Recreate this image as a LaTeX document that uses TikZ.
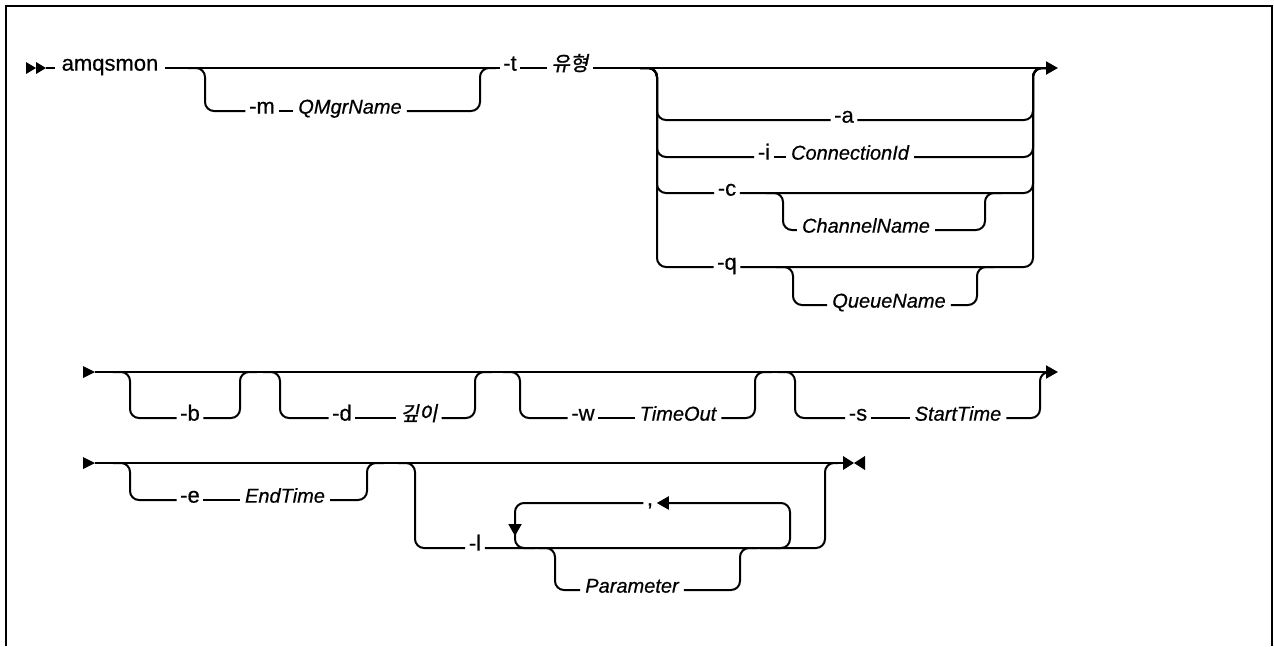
\documentclass[tikz,border=0pt]{standalone}
\usepackage{fontspec}
\setmainfont{Liberation Sans}[UprightFeatures={FakeBold=0.5}, ItalicFeatures={FakeBold=0.5}]
\newfontfamily\krfont{Noto Sans CJK KR}[FakeSlant=0.2, FakeBold=1.2]
\usetikzlibrary{arrows.meta}
\begin{document}
\begin{tikzpicture}[x=1pt,y=-1pt,
  ln/.style={line width=2pt},
  rr/.style={line width=2pt, rounded corners=9pt},
  tip/.style={-{Triangle[length=12pt,width=13pt]}},
  kw/.style={font=\fontsize{22}{26}\selectfont, inner xsep=3.5pt, inner ysep=0pt},
  var/.style={font=\fontsize{20}{24}\selectfont\itshape, inner xsep=5pt, inner ysep=0pt},
  kr/.style={font=\fontsize{20}{24}\selectfont\krfont, inner xsep=4pt, inner ysep=0pt},
]
\useasboundingbox (0,0) rectangle (1274,646);
% frame
\draw[line width=2.2pt] (6,646) -- (6,6) -- (1272,6) -- (1272,646);

% ---------- row 1 ----------
\coordinate (s1) at (46,68);
\fill (26,62) -- (36,68) -- (26,74) -- cycle;
\fill (36,62) -- (46,68) -- (36,74) -- cycle;
\node[kw, anchor=mid, inner xsep=7pt] (amq) at (110,68) {amqsmon};
\draw[ln] (s1) -- (amq.mid west);
\node[kw, anchor=mid] (m) at (262,111) {-m};
\node[var, anchor=mid] (qm) at (350,111) {QMgrName};
\node[kw, anchor=mid] (t) at (510,68) {-t};
\node[kr, anchor=mid] (yh) at (570,68) {유형};
\draw[ln] (amq.mid east) -- (t.mid west);
\draw[rr] (188,68) -- (205,68) -- (205,111) -- (m.mid west);
\draw[ln] (m.mid east) -- (qm.mid west);
\draw[rr] (qm.mid east) -- (480,111) -- (480,68) -- (496,68);
\draw[ln] (t.mid east) -- (yh.mid west);
% choice block
\coordinate (cR) at (1033,68);
\coordinate (e1) at (1058,68);
\draw[ln] (yh.mid east) -- (cR);
\draw[ln, tip] (cR) -- (e1);
\node[kw, anchor=mid] (a) at (844,120) {-a};
\node[kw, anchor=mid] (i) at (764,157) {-i};
\node[var, anchor=mid] (cid) at (850,157) {ConnectionId};
\node[kw, anchor=mid] (c) at (727,193) {-c};
\node[var, anchor=mid] (chn) at (866,230) {ChannelName};
\node[kw, anchor=mid] (q) at (727,267) {-q};
\node[var, anchor=mid] (qn) at (889,305) {QueueName};
% a
\draw[rr] (640,68) -- (657,68) -- (657,120) -- (a.mid west);
\draw[rr] (a.mid east) -- (1033,120) -- (1033,68) -- (1050,68);
% i
\draw[rr] (640,68) -- (657,68) -- (657,157) -- (i.mid west);
\draw[ln] (i.mid east) -- (cid.mid west);
\draw[rr] (cid.mid east) -- (1033,157) -- (1033,68) -- (1050,68);
% c
\draw[rr] (640,68) -- (657,68) -- (657,193) -- (c.mid west);
\draw[rr] (c.mid east) -- (1033,193) -- (1033,68) -- (1050,68);
\draw[rr] (766,193) -- (783,193) -- (783,230) -- (chn.mid west);
\draw[rr] (chn.mid east) -- (985,230) -- (985,193) -- (1002,193);
% q
\draw[rr] (640,68) -- (657,68) -- (657,267) -- (q.mid west);
\draw[rr] (q.mid east) -- (1033,267) -- (1033,68) -- (1050,68);
\draw[rr] (776,267) -- (793,267) -- (793,305) -- (qn.mid west);
\draw[rr] (qn.mid east) -- (977,305) -- (977,267) -- (994,267);

% ---------- row 2 ----------
\coordinate (s2) at (95,372);
\coordinate (e2) at (1058,372);
\fill (83,366) -- (95,372) -- (83,378) -- cycle;
\draw[ln, tip] (s2) -- (e2);
\node[kw, anchor=mid] (b) at (190,418) {-b};
\node[kw, anchor=mid] (d) at (342,418) {-d};
\node[kr, anchor=mid] (dp) at (419,418) {깊이};
\node[kw, anchor=mid] (w) at (583,418) {-w};
\node[var, anchor=mid] (to) at (678,418) {TimeOut};
\node[kw, anchor=mid] (s) at (858,418) {-s};
\node[var, anchor=mid] (st) at (958,418) {StartTime};
\draw[rr] (113,372) -- (130,372) -- (130,418) -- (b.mid west);
\draw[rr] (b.mid east) -- (240,418) -- (240,372) -- (257,372);
\draw[rr] (263,372) -- (280,372) -- (280,418) -- (d.mid west);
\draw[ln] (d.mid east) -- (dp.mid west);
\draw[rr] (dp.mid east) -- (475,418) -- (475,372) -- (492,372);
\draw[rr] (503,372) -- (520,372) -- (520,418) -- (w.mid west);
\draw[ln] (w.mid east) -- (to.mid west);
\draw[rr] (to.mid east) -- (755,418) -- (755,372) -- (772,372);
\draw[rr] (778,372) -- (795,372) -- (795,418) -- (s.mid west);
\draw[ln] (s.mid east) -- (st.mid west);
\draw[rr] (st.mid east) -- (1040,418) -- (1040,372) -- (1050,372);

% ---------- row 3 ----------
\coordinate (s3) at (95,463);
\coordinate (e3) at (843,463);
\fill (83,457) -- (95,463) -- (83,469) -- cycle;
\draw[ln] (s3) -- (e3);
\fill (843,456) -- (854,463) -- (843,470) -- cycle;
\fill (865,456) -- (854,463) -- (865,470) -- cycle;
\node[kw, anchor=mid] (e) at (190,500) {-e};
\node[var, anchor=mid] (et) at (285,500) {EndTime};
\node[kw, anchor=mid] (l) at (475,548) {-l};
\node[kw, anchor=mid] (cm) at (650,503) {,};
\node[var, anchor=mid] (par) at (632,590) {Parameter};
\draw[rr] (113,463) -- (130,463) -- (130,500) -- (e.mid west);
\draw[ln] (e.mid east) -- (et.mid west);
\draw[rr] (et.mid east) -- (367,500) -- (367,463) -- (384,463);
\draw[rr] (398,463) -- (415,463) -- (415,548) -- (l.mid west);
\draw[rr] (l.mid east) -- (825,548) -- (825,463) -- (838,463);
% repeat loop
\draw[rr, tip] (cm.mid west) -- (515,503) -- (515,536);
\draw[rr] (515,528) -- (515,548) -- (535,548);
\draw[rr, tip] (760,548) -- (790,548) -- (790,503) -- (cm.mid east);
% parameter
\draw[rr] (538,548) -- (555,548) -- (555,590) -- (par.mid west);
\draw[rr] (par.mid east) -- (740,590) -- (740,548) -- (757,548);
\end{tikzpicture}
\end{document}
